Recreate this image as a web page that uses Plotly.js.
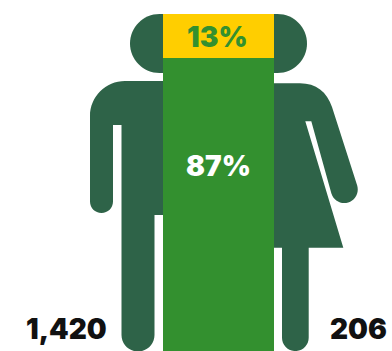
<!DOCTYPE html>
<html>
<head>
<meta charset="utf-8">
<script src="https://cdn.plot.ly/plotly-3.0.1.min.js"></script>
<style>html,body{margin:0;padding:0;background:#fff;overflow:hidden}</style>
</head>
<body>
<div id="chart" style="width:392px;height:351px"></div>
<script>
// Share of each group, stacked bottom to top
const groups = ['Men', 'Women'];
const sharePercent = [87, 13];
const counts = ['1,420', '206'];
const barColors = ['#33902F', '#FFCE00'];

const figureColor = '#2E6348';
const labelFont = 'Inter, "Noto Sans", sans-serif';

// Silhouettes, in page-pixel units on the overlay axes; curves are cubic
// because Plotly shape paths have no arc command
const manHead = 'M 159.5 14 C 143.2 14 130 27.2 130 43.5 C 130 59.8 143.2 73 159.5 73 L 172 73 L 172 14 Z';
const womanHead = 'M 277.5 14 C 293.8 14 307 27.2 307 43.5 C 307 59.8 293.8 73 277.5 73 L 265 73 L 265 14 Z';
const manBody = 'M 172 81 L 125 81 C 105.7 81 90 96.7 90 116 L 90 201.5 ' +
  'C 90 207.85 95.15 213 101.5 213 C 107.85 213 113 207.85 113 201.5 ' +
  'L 113 125 L 121.5 125 L 121.5 335 C 121.5 344.1 128.9 351.5 138 351.5 C 147.1 351.5 154.5 344.1 154.5 335 ' +
  'L 154.5 215 L 172 215 Z';
const womanBody = 'M 265 83.3 L 300 83.3 C 316 83.3 327 92 332 107 L 357.2 185.6 ' +
  'C 359.3 192.7 355.3 200.3 348.2 202.4 C 341.1 204.5 333.5 200.5 331.4 193.4 ' +
  'L 311.3 121.3 L 305.3 121.3 L 343.3 247.7 L 308.7 247.7 L 308.7 337.7 ' +
  'C 308.7 345.07 302.72 351.05 295.35 351.05 C 287.98 351.05 282 345.07 282 337.7 ' +
  'L 282 247.7 L 265 247.7 Z';

const silhouette = path => ({
  type: 'path', path, xref: 'x2', yref: 'y2', layer: 'below',
  fillcolor: figureColor, line: {width: 0}
});

const traces = groups.map((name, i) => ({
  type: 'bar',
  name,
  x: [218.5],
  y: [sharePercent[i]],
  width: [111],
  marker: {color: barColors[i], line: {width: 0}},
  hoverinfo: 'skip'
}));

// Empty trace so the overlay axes exist for the shapes
traces.push({type: 'scatter', x: [], y: [], xaxis: 'x2', yaxis: 'y2', hoverinfo: 'skip', showlegend: false});

const layout = {
  width: 392,
  height: 351,
  margin: {l: 0, r: 0, t: 0, b: 0},
  paper_bgcolor: '#fff',
  plot_bgcolor: 'rgba(0,0,0,0)',
  barmode: 'stack',
  showlegend: false,
  xaxis: {range: [0, 392], visible: false, fixedrange: true},
  // The full stack stops 14px below the top of the page
  yaxis: {range: [0, 100 * 351 / 337], visible: false, fixedrange: true},
  xaxis2: {range: [0, 392], overlaying: 'x', visible: false, fixedrange: true},
  yaxis2: {range: [351, 0], overlaying: 'y', visible: false, fixedrange: true},
  shapes: [manHead, womanHead, manBody, womanBody].map(silhouette),
  annotations: [
    {text: sharePercent[1] + '%', x: 217.5, y: 36.5, color: '#33902F'},
    {text: sharePercent[0] + '%', x: 218, y: 166, color: '#ffffff'},
    {text: counts[0], x: 66, y: 329, color: '#111111'},
    {text: counts[1], x: 358.5, y: 329, color: '#111111'}
  ].map(a => ({
    text: a.text, x: a.x, y: a.y, xref: 'x2', yref: 'y2',
    showarrow: false, xanchor: 'center', yanchor: 'middle',
    font: {family: labelFont, size: 28, weight: 900, color: a.color}
  }))
};

Plotly.newPlot('chart', traces, layout, {displayModeBar: false, staticPlot: true});
</script>
</body>
</html>
